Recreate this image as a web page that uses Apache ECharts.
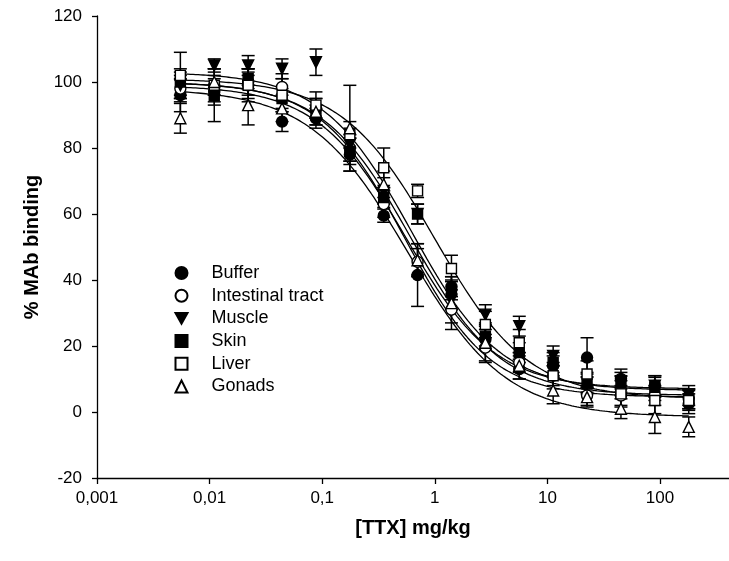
<!DOCTYPE html>
<html><head><meta charset="utf-8">
<script src="https://cdn.jsdelivr.net/npm/echarts@6/dist/echarts.min.js"></script>
<style>html,body{margin:0;padding:0;background:#fff}#c{width:729px;height:561px}</style>
</head><body><div id="c"></div>
<script>
// ---- data ----
const doses = [0.0055, 0.011, 0.022, 0.044, 0.088, 0.176, 0.352, 0.703, 1.406, 2.8125, 5.625, 11.25, 22.5, 45, 90, 180];
const seriesNames = ['Buffer', 'Intestinal tract', 'Muscle', 'Skin', 'Liver', 'Gonads'];

const buffer     = [96, 97, 100, 88, 89, 78, 59.5, 41.5, 38, 22, 13, 14, 16.5, 10, 8, 2.5];
const intestinal = [98, 99, 99, 98.5, 92, 80, 63, 45.5, 31, 19.5, 15, 11, 5, 5, 5, 4];
const muscle     = [99, 105, 105, 104, 106, 81, 67, 60, 34, 29.5, 26, 17, 9, 9, 8, 5];
const skin       = [100, 96, 101, 95, 90, 79, 65, 60, 37, 23, 18, 15, 8.5, 8, 7.5, 4];
const liver      = [102, 99, 99, 96, 93, 84, 74, 67, 43.5, 26.5, 21, 11, 11.5, 5.5, 3.5, 3.5];
const gonads     = [89, 100, 93, 92, 91, 86, 69, 46, 33, 21, 14, 6.5, 4.5, 1, -1.5, -4.5];

const bufferErr     = [5, 4, 4, 3, 3, 5, 2, 9.5, 3, 3, 3, 3, 6, 3, 3, 3];
const intestinalErr = [4, 3, 4, 4, 3, 4, 4, 4, 4, 4, 3, 3, 3, 3, 3, 3];
const muscleErr     = [4, 2, 3, 3, 4, 5, 4, 3, 3, 3, 3, 3, 3, 3, 3, 3];
const skinErr       = [4, 8, 3, 3, 3, 4, 3, 3, 3, 3, 3, 3, 3, 3, 3, 3];
const liverErr      = [7, 5, 5, 5, 4, 4, 6, 2, 4, 4, 4, 4, 4, 4, 4, 3];
const gonadsErr     = [4.5, 4, 6, 4, 4, 13, 4, 5, 8, 6, 4, 4, 3, 3, 5, 3];

// fitted sigmoid parameters per series: [bottom, top, EC50, Hill slope]
const bufferFit     = [7, 99, 0.55, 1.1];
const intestinalFit = [4.5, 100, 0.55, 1.15];
const muscleFit     = [6.5, 103, 0.62, 1.1];
const skinFit       = [5, 100, 0.62, 1.1];
const liverFit      = [4, 101, 1.0, 1.05];
const gonadsFit     = [-1.5, 98, 0.58, 1.0];

const xTicks = [0.001, 0.01, 0.1, 1, 10, 100];

// ---- chart ----
const values = [buffer, intestinal, muscle, skin, liver, gonads];
const errs = [bufferErr, intestinalErr, muscleErr, skinErr, liverErr, gonadsErr];
const fits = [bufferFit, intestinalFit, muscleFit, skinFit, liverFit, gonadsFit];
const symbols = ['circle', 'circle', 'triangle', 'rect', 'rect', 'triangle'];
const rotates = [0, 0, 180, 0, 0, 0];
const filled = [true, false, true, true, false, false];
const sizes = [11, 11, 11, 10, 10, 11];
const legendIcons = ['circle', 'circle', 'path://M0,0 L10,0 L5,9 Z', 'rect', 'rect', 'triangle'];

function curve(p) {
  const pts = [];
  const a = Math.log10(doses[0]), b = Math.log10(doses[doses.length - 1]);
  for (let i = 0; i <= 200; i++) {
    const x = Math.pow(10, a + (b - a) * i / 200);
    pts.push([x, p[0] + (p[1] - p[0]) / (1 + Math.pow(x / p[2], p[3]))]);
  }
  return pts;
}

const series = [];
fits.forEach((p, k) => {
  series.push({ type: 'line', data: curve(p), showSymbol: false, symbol: 'none', silent: true,
    lineStyle: { color: '#000', width: 1.3 }, z: 1, legendHoverLink: false });
});
values.forEach((v, k) => {
  series.push({
    type: 'custom', z: 2, silent: true,
    data: doses.map((d, i) => [d, v[i] - errs[k][i], v[i] + errs[k][i]]),
    encode: { x: 0, y: [1, 2] },
    renderItem: (params, api) => {
      const lo = api.coord([api.value(0), api.value(1)]);
      const hi = api.coord([api.value(0), api.value(2)]);
      const w = 6.5, st = { stroke: '#000', lineWidth: 1.5 };
      return { type: 'group', children: [
        { type: 'line', shape: { x1: lo[0], y1: lo[1], x2: hi[0], y2: hi[1] }, style: st },
        { type: 'line', shape: { x1: lo[0] - w, y1: lo[1], x2: lo[0] + w, y2: lo[1] }, style: st },
        { type: 'line', shape: { x1: hi[0] - w, y1: hi[1], x2: hi[0] + w, y2: hi[1] }, style: st }
      ]};
    }
  });
});
values.forEach((v, k) => {
  series.push({
    name: seriesNames[k], type: 'scatter', z: 3,
    data: doses.map((d, i) => [d, v[i]]),
    symbol: symbols[k], symbolRotate: rotates[k], symbolSize: sizes[k],
    itemStyle: { color: filled[k] ? '#000' : '#fff', borderColor: '#000', borderWidth: 1.4, opacity: 1 }
  });
});

const chart = echarts.init(document.getElementById('c'), null, { renderer: 'canvas' });
chart.setOption({
  animation: false,
  backgroundColor: '#fff',
  textStyle: { fontFamily: 'Liberation Sans, Arial, sans-serif' },
  grid: { left: 97, right: 0, top: 16, bottom: 83, containLabel: false },
  legend: {
    data: seriesNames.map((n, k) => ({ name: n, icon: legendIcons[k], symbolRotate: 0 })),
    orient: 'vertical', left: 174.5, top: 264, padding: 0,
    itemWidth: 12, itemHeight: 12, itemGap: 4.7,
    textStyle: { fontSize: 18, color: '#000', lineHeight: 18, padding: [0, 0, 0, 19], fontFamily: 'Liberation Sans, Arial, sans-serif' },
    selectedMode: false
  },
  xAxis: {
    type: 'log', logBase: 10, min: 0.001, max: 410,
    name: '[TTX] mg/kg', nameLocation: 'middle', nameGap: 40,
    nameTextStyle: { fontSize: 20, fontWeight: 'bold', color: '#000', fontFamily: 'Liberation Sans, Arial, sans-serif' },
    axisLine: { onZero: false, lineStyle: { color: '#000', width: 1.3 } },
    axisTick: { show: true, inside: false, length: 6, customValues: xTicks, lineStyle: { color: '#000', width: 1.3 } },
    minorTick: { show: false },
    splitLine: { show: false },
    axisLabel: { customValues: xTicks, fontSize: 17, color: '#000', margin: 12,
      formatter: v => String(v).replace('.', ',') }
  },
  yAxis: {
    type: 'value', min: -20, max: 120, interval: 20,
    name: '% MAb binding', nameLocation: 'middle', nameGap: 55,
    nameTextStyle: { fontSize: 20, fontWeight: 'bold', color: '#000', fontFamily: 'Liberation Sans, Arial, sans-serif' },
    axisLine: { show: true, lineStyle: { color: '#000', width: 1.3 } },
    axisTick: { show: true, inside: false, length: 5, lineStyle: { color: '#000', width: 1.3 } },
    splitLine: { show: false },
    axisLabel: { fontSize: 17, color: '#000', margin: 15 }
  },
  series: series
});
</script>
</body></html>
